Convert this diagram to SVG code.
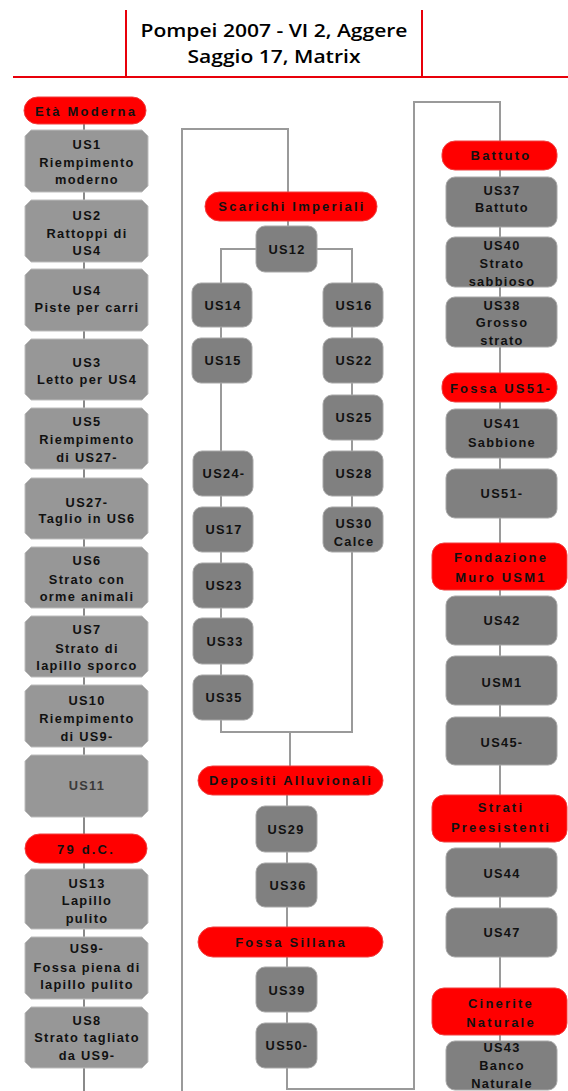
<svg xmlns="http://www.w3.org/2000/svg" width="568" height="1091" viewBox="0 0 568 1091">
<style>
.bg{fill:#fff}
.red{stroke:#e8000a;stroke-width:2;fill:none}
.title{font-family:"Open Sans","Liberation Sans",Arial,sans-serif;font-weight:600;font-size:18px;fill:#000;text-anchor:middle}
.con{stroke:#9a9a9a;stroke-width:2;fill:none}
.conL{stroke:#8a8a8a;stroke-width:2;fill:none}
.oct{fill:#979797;stroke:#bdbdbd;stroke-width:1}
.box{fill:#808080;stroke:#a8a8a8;stroke-width:1}
.pill{fill:#ff0000;stroke:#f04040;stroke-width:1}
text.t{font-family:"Liberation Sans",Arial,sans-serif;font-weight:bold;font-size:12.8px;letter-spacing:1.3px;fill:#111;text-anchor:middle}
text.p{font-family:"Liberation Sans",Arial,sans-serif;font-weight:bold;font-size:13px;letter-spacing:2.2px;fill:#111;text-anchor:middle}
</style>
<rect class="bg" x="0" y="0" width="568" height="1091"/>
<g id="title">
<path class="red" d="M13,77 H568 M126,10 V77 M422,10 V77"/>
<text class="title" x="274" y="37" textLength="267" lengthAdjust="spacingAndGlyphs">Pompei 2007 - VI 2, Aggere</text>
<text class="title" x="274" y="63" textLength="173" lengthAdjust="spacingAndGlyphs">Saggio 17, Matrix</text>
</g>
<g id="connectors">
<path class="conL" d="M84,124 V1091"/>
<path class="con" d="M182,1091 V129 H288 V192 M288,221 V226 M256,249 H221 V283 M317,249 H352 V283 M221,327 V732 H352 V327 M290,732 V766 M287,795 V1089 H414 V102 H500 V141 M500,170 V1041"/>
</g>
<g id="n-eta"><rect class="pill" x="24" y="97" width="122" height="27" rx="13.5"/><text class="p" x="86" y="116">Età Moderna</text></g>
<g id="n-us1"><polygon class="oct" points="31,130 142,130 148,136 148,186 142,192 31,192 25,186 25,136"/><text class="t" x="87" y="148.5">US1</text><text class="t" x="87" y="166.5">Riempimento</text><text class="t" x="87" y="183.5">moderno</text></g>
<g id="n-us2"><polygon class="oct" points="31,200 142,200 148,206 148,256 142,262 31,262 25,256 25,206"/><text class="t" x="87" y="219.5">US2</text><text class="t" x="87" y="237.5">Rattoppi di</text><text class="t" x="87" y="254.5">US4</text></g>
<g id="n-us4"><polygon class="oct" points="31,269 142,269 148,275 148,325 142,331 31,331 25,325 25,275"/><text class="t" x="87" y="294.5">US4</text><text class="t" x="87" y="311.5">Piste per carri</text></g>
<g id="n-us3"><polygon class="oct" points="31,339 142,339 148,345 148,394 142,400 31,400 25,394 25,345"/><text class="t" x="87" y="366.5">US3</text><text class="t" x="87" y="383.5">Letto per US4</text></g>
<g id="n-us5"><polygon class="oct" points="31,408 142,408 148,414 148,463 142,469 31,469 25,463 25,414"/><text class="t" x="87" y="425.5">US5</text><text class="t" x="87" y="443.5">Riempimento</text><text class="t" x="87" y="461.5">di US27-</text></g>
<g id="n-us27"><polygon class="oct" points="31,478 142,478 148,484 148,533 142,539 31,539 25,533 25,484"/><text class="t" x="87" y="506.5">US27-</text><text class="t" x="87" y="522.5">Taglio in US6</text></g>
<g id="n-us6"><polygon class="oct" points="31,547 142,547 148,553 148,602 142,608 31,608 25,602 25,553"/><text class="t" x="87" y="564.5">US6</text><text class="t" x="87" y="583.5">Strato con</text><text class="t" x="87" y="600.5">orme animali</text></g>
<g id="n-us7"><polygon class="oct" points="31,616 142,616 148,622 148,671 142,677 31,677 25,671 25,622"/><text class="t" x="87" y="633.5">US7</text><text class="t" x="87" y="652.5">Strato di</text><text class="t" x="87" y="669.5">lapillo sporco</text></g>
<g id="n-us10"><polygon class="oct" points="31,685 142,685 148,691 148,741 142,747 31,747 25,741 25,691"/><text class="t" x="87" y="704.5">US10</text><text class="t" x="87" y="722.5">Riempimento</text><text class="t" x="87" y="740.5">di US9-</text></g>
<g id="n-us11"><polygon class="oct" points="31,755 142,755 148,761 148,811 142,817 31,817 25,811 25,761"/><text class="t" x="87" y="789.5" style="fill:#3a3a3a">US11</text></g>
<g id="n-79"><rect class="pill" x="25" y="834" width="122" height="29" rx="14.5"/><text class="p" x="86" y="853.5">79 d.C.</text></g>
<g id="n-us13"><polygon class="oct" points="31,869 142,869 148,875 148,923 142,929 31,929 25,923 25,875"/><text class="t" x="87" y="887.5">US13</text><text class="t" x="87" y="904.5">Lapillo</text><text class="t" x="87" y="922.5">pulito</text></g>
<g id="n-us9"><polygon class="oct" points="31,937 142,937 148,943 148,993 142,999 31,999 25,993 25,943"/><text class="t" x="87" y="952.5">US9-</text><text class="t" x="87" y="971.5">Fossa piena di</text><text class="t" x="87" y="988.5">lapillo pulito</text></g>
<g id="n-us8"><polygon class="oct" points="31,1007 142,1007 148,1013 148,1062 142,1068 31,1068 25,1062 25,1013"/><text class="t" x="87" y="1024.5">US8</text><text class="t" x="87" y="1041.5">Strato tagliato</text><text class="t" x="87" y="1059.5">da US9-</text></g>
<g id="n-scarichi"><rect class="pill" x="205" y="192" width="172" height="29" rx="14.5"/><text class="p" x="292" y="211">Scarichi Imperiali</text></g>
<g id="n-us12"><rect class="box" x="256" y="226" width="61" height="46" rx="9"/><text class="t" x="287" y="253.5">US12</text></g>
<g id="n-us14"><rect class="box" x="192" y="283" width="60" height="44" rx="9"/><text class="t" x="223" y="309.5">US14</text></g>
<g id="n-us16"><rect class="box" x="323" y="283" width="60" height="44" rx="9"/><text class="t" x="354" y="309.5">US16</text></g>
<g id="n-us15"><rect class="box" x="192" y="338" width="60" height="45" rx="9"/><text class="t" x="223" y="364.5">US15</text></g>
<g id="n-us22"><rect class="box" x="323" y="338" width="60" height="45" rx="9"/><text class="t" x="354" y="364.5">US22</text></g>
<g id="n-us25"><rect class="box" x="323" y="395" width="60" height="45" rx="9"/><text class="t" x="354" y="421.5">US25</text></g>
<g id="n-us24"><rect class="box" x="193" y="451" width="60" height="45" rx="9"/><text class="t" x="224" y="477.5">US24-</text></g>
<g id="n-us28"><rect class="box" x="323" y="451" width="60" height="45" rx="9"/><text class="t" x="354" y="477.5">US28</text></g>
<g id="n-us17"><rect class="box" x="193" y="507" width="60" height="45" rx="9"/><text class="t" x="224" y="533.5">US17</text></g>
<g id="n-us30"><rect class="box" x="323" y="507" width="60" height="45" rx="9"/><text class="t" x="354" y="527.5">US30</text><text class="t" x="354" y="545.5">Calce</text></g>
<g id="n-us23"><rect class="box" x="193" y="563" width="60" height="45" rx="9"/><text class="t" x="224" y="589.5">US23</text></g>
<g id="n-us33"><rect class="box" x="193" y="618" width="60" height="46" rx="9"/><text class="t" x="225" y="645.5">US33</text></g>
<g id="n-us35"><rect class="box" x="193" y="675" width="60" height="45" rx="9"/><text class="t" x="224" y="701.5">US35</text></g>
<g id="n-depositi"><rect class="pill" x="198" y="766" width="185" height="29" rx="14.5"/><text class="p" x="291" y="784.5">Depositi Alluvionali</text></g>
<g id="n-us29"><rect class="box" x="256" y="806" width="61" height="46" rx="9"/><text class="t" x="286" y="833.5">US29</text></g>
<g id="n-us36"><rect class="box" x="256" y="863" width="61" height="44" rx="9"/><text class="t" x="288" y="889.5">US36</text></g>
<g id="n-fossasillana"><rect class="pill" x="198" y="927" width="185" height="30" rx="15"/><text class="p" x="291" y="946.5">Fossa Sillana</text></g>
<g id="n-us39"><rect class="box" x="256" y="967" width="61" height="45" rx="9"/><text class="t" x="287" y="994.5">US39</text></g>
<g id="n-us50"><rect class="box" x="256" y="1023" width="61" height="45" rx="9"/><text class="t" x="287" y="1049.5">US50-</text></g>
<g id="n-battuto"><rect class="pill" x="442" y="141" width="115" height="29" rx="13"/><text class="p" x="501" y="160">Battuto</text></g>
<g id="n-us37"><rect class="box" x="446" y="177" width="111" height="50" rx="9"/><text class="t" x="502" y="194.5">US37</text><text class="t" x="502" y="211.5">Battuto</text></g>
<g id="n-us40"><rect class="box" x="446" y="237" width="111" height="50" rx="9"/><text class="t" x="502" y="249.5">US40</text><text class="t" x="502" y="267.5">Strato</text><text class="t" x="502" y="285.5">sabbioso</text></g>
<g id="n-us38"><rect class="box" x="446" y="297" width="111" height="50" rx="9"/><text class="t" x="502" y="309.5">US38</text><text class="t" x="502" y="326.5">Grosso</text><text class="t" x="502" y="344.5">strato</text></g>
<g id="n-fossa51"><rect class="pill" x="442" y="373" width="115" height="29" rx="13"/><text class="p" x="501" y="392.5">Fossa US51-</text></g>
<g id="n-us41"><rect class="box" x="446" y="409" width="111" height="49" rx="9"/><text class="t" x="502" y="427.5">US41</text><text class="t" x="502" y="446.5">Sabbione</text></g>
<g id="n-us51"><rect class="box" x="446" y="469" width="111" height="49" rx="9"/><text class="t" x="502" y="497.5">US51-</text></g>
<g id="n-fondazione"><rect class="pill" x="432" y="543" width="135" height="47" rx="12"/><text class="p" x="501" y="561.5">Fondazione</text><text class="p" x="501" y="581.5">Muro USM1</text></g>
<g id="n-us42"><rect class="box" x="446" y="596" width="111" height="49" rx="9"/><text class="t" x="502" y="624.5">US42</text></g>
<g id="n-usm1"><rect class="box" x="446" y="656" width="111" height="49" rx="9"/><text class="t" x="502" y="686.5">USM1</text></g>
<g id="n-us45"><rect class="box" x="446" y="717" width="111" height="48" rx="9"/><text class="t" x="502" y="746.5">US45-</text></g>
<g id="n-strati"><rect class="pill" x="432" y="795" width="135" height="47" rx="12"/><text class="p" x="501" y="811.5">Strati</text><text class="p" x="501" y="831.5">Preesistenti</text></g>
<g id="n-us44"><rect class="box" x="446" y="848" width="111" height="49" rx="9"/><text class="t" x="502" y="877.5">US44</text></g>
<g id="n-us47"><rect class="box" x="446" y="908" width="111" height="49" rx="9"/><text class="t" x="502" y="936.5">US47</text></g>
<g id="n-cinerite"><rect class="pill" x="432" y="988" width="135" height="47" rx="12"/><text class="p" x="501" y="1007.5">Cinerite</text><text class="p" x="501" y="1026.5">Naturale</text></g>
<g id="n-us43"><rect class="box" x="446" y="1041" width="111" height="49" rx="9"/><text class="t" x="502" y="1051.5">US43</text><text class="t" x="502" y="1069.5">Banco</text><text class="t" x="502" y="1087.5">Naturale</text></g>
</svg>
